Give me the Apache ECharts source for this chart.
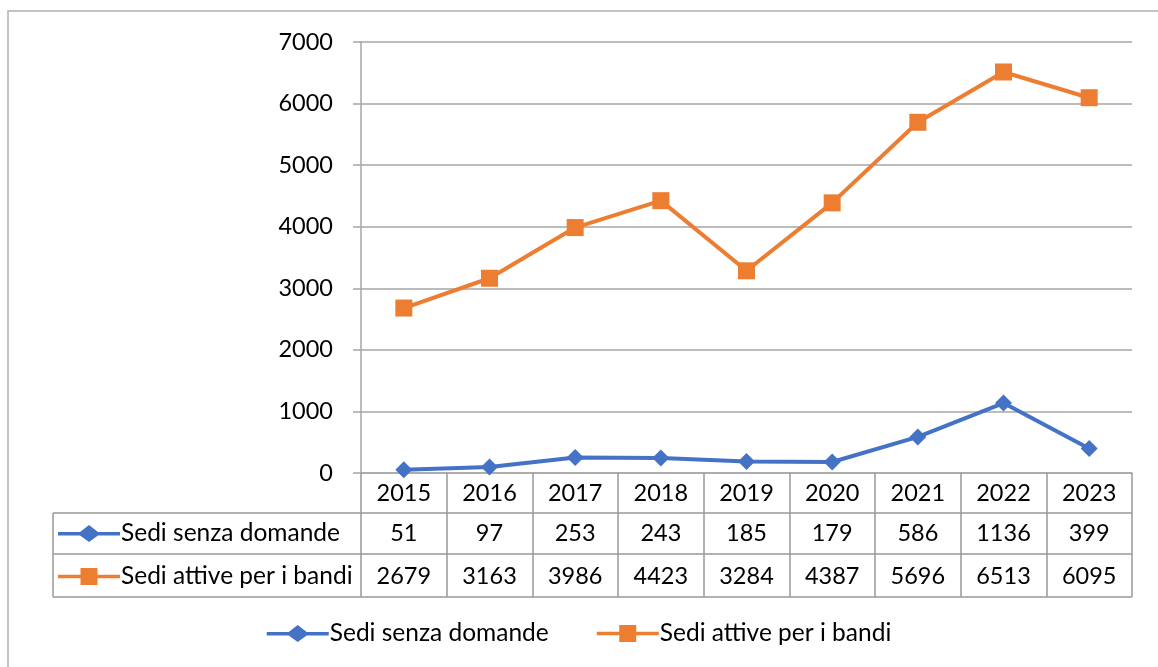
<!DOCTYPE html>
<html>
<head>
<meta charset="utf-8">
<script src="https://cdn.jsdelivr.net/npm/echarts@6/dist/echarts.min.js"></script>
<style>
  html, body { margin: 0; padding: 0; background: #fff; }
  #chart { width: 1158px; height: 667px; }
</style>
</head>
<body>
<div id="chart"></div>
<script>
// Sedi per anno: categorie, serie e tacche dell'asse
const years = ['2015', '2016', '2017', '2018', '2019', '2020', '2021', '2022', '2023'];
const sediSenzaDomande = [51, 97, 253, 243, 185, 179, 586, 1136, 399];
const sediAttive = [2679, 3163, 3986, 4423, 3284, 4387, 5696, 6513, 6095];
const yTicks = [0, 1000, 2000, 3000, 4000, 5000, 6000, 7000];
const seriesNames = ['Sedi senza domande', 'Sedi attive per i bandi'];

const FONT = 'Lato, "Open Sans", sans-serif';
const FS = 23.5;
const FS_LEGEND = 24.5;
const GRID_COLOR = '#a6a6a6';
const TABLE_COLOR = '#999999';
const BLUE = '#4472C4';
const ORANGE = '#ED7D31';

// legend keys: a thick line with the series marker in the middle (62 x 17 box)
const ICON_DIAMOND = 'path://M0,7 L22,7 L31,0 L40,7 L62,7 L62,10.5 L40,10.5 L31,17 L22,10.5 L0,10.5 Z';
const ICON_SQUARE = 'path://M0,6.7 L22.5,6.7 L22.5,0 L39.5,0 L39.5,6.7 L62,6.7 L62,10.3 L39.5,10.3 L39.5,17 L22.5,17 L22.5,10.3 L0,10.3 Z';

// layout
const plotLeft = 361, plotRight = 1132, plotTop = 42, plotBottom = 473;
const rowBottoms = [513, 554, 597];
const tableLeft = 53;

const chart = echarts.init(document.getElementById('chart'));

const textStyle = { fontFamily: FONT, fontSize: FS, color: '#000' };

const valueRowAxis = (values, offset) => ({
  type: 'category',
  data: years,
  position: 'bottom',
  offset: offset,
  axisLine: { show: false },
  axisTick: { show: false },
  axisLabel: Object.assign({ margin: 8, formatter: (v, i) => String(values[i]) }, textStyle)
});

const tableLines = [];
rowBottoms.forEach(y => {
  tableLines.push({
    type: 'line',
    shape: { x1: tableLeft, y1: y, x2: plotRight, y2: y },
    style: { stroke: TABLE_COLOR, lineWidth: 1.5 }
  });
});
tableLines.push({
  type: 'line',
  shape: { x1: tableLeft, y1: rowBottoms[0], x2: tableLeft, y2: rowBottoms[2] },
  style: { stroke: TABLE_COLOR, lineWidth: 1.5 }
});

const legendBase = {
  itemWidth: 62,
  itemHeight: 17,
  padding: 0,
  selectedMode: false,
  textStyle: { fontFamily: FONT, fontSize: FS_LEGEND, color: '#000', lineHeight: 24, padding: [0, 0, 0, -4] },
  data: [
    { name: seriesNames[0], icon: ICON_DIAMOND },
    { name: seriesNames[1], icon: ICON_SQUARE }
  ]
};

chart.setOption({
  animation: false,
  backgroundColor: '#fff',
  grid: {
    left: plotLeft, right: 1158 - plotRight, top: plotTop, bottom: 667 - plotBottom,
    containLabel: false
  },
  xAxis: [
    {
      type: 'category',
      data: years,
      boundaryGap: true,
      axisLine: { show: true, lineStyle: { color: GRID_COLOR, width: 1.5 } },
      axisTick: {
        show: true, length: rowBottoms[2] - plotBottom,
        lineStyle: { color: TABLE_COLOR, width: 1.5 }
      },
      axisLabel: Object.assign({ margin: 8 }, textStyle)
    },
    valueRowAxis(sediSenzaDomande, 40),
    valueRowAxis(sediAttive, 83)
  ],
  yAxis: {
    type: 'value',
    min: yTicks[0],
    max: yTicks[yTicks.length - 1],
    interval: yTicks[1] - yTicks[0],
    axisLine: { show: true, lineStyle: { color: GRID_COLOR, width: 1.5 } },
    axisTick: { show: true, length: 8, lineStyle: { color: GRID_COLOR, width: 1.5 } },
    splitLine: { show: true, lineStyle: { color: GRID_COLOR, width: 1.5 } },
    axisLabel: Object.assign({ margin: 28, formatter: v => String(v) }, textStyle)
  },
  legend: [
    Object.assign({}, legendBase, {
      orient: 'vertical',
      left: tableLeft + 5,
      top: 521,
      itemGap: 18
    }),
    Object.assign({}, legendBase, {
      orient: 'horizontal',
      left: 'center',
      top: 621,
      itemGap: 48
    })
  ],
  graphic: [
    {
      type: 'rect',
      shape: { x: 8, y: 11, width: 1170, height: 680 },
      style: { fill: 'none', stroke: '#b0b0b0', lineWidth: 1.5 },
      silent: true
    }
  ].concat(tableLines),
  series: [
    {
      name: seriesNames[0],
      type: 'line',
      data: sediSenzaDomande,
      symbol: 'diamond',
      symbolSize: 17,
      color: BLUE,
      lineStyle: { width: 4, color: BLUE },
      itemStyle: { color: BLUE }
    },
    {
      name: seriesNames[1],
      type: 'line',
      data: sediAttive,
      symbol: 'rect',
      symbolSize: 17,
      color: ORANGE,
      lineStyle: { width: 4, color: ORANGE },
      itemStyle: { color: ORANGE }
    }
  ]
});
</script>
</body>
</html>
